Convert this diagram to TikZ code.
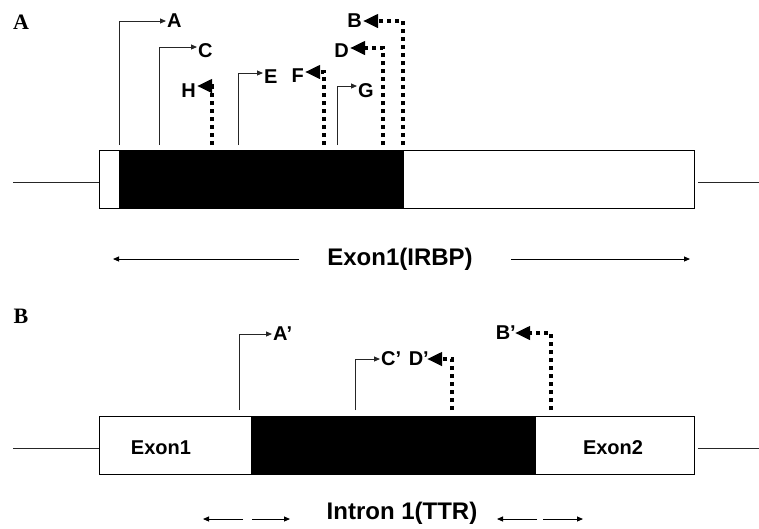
\documentclass[tikz,border=0pt]{standalone}
\usepackage{fontspec}
\newfontfamily\lsans{Liberation Sans}
\newfontfamily\lserif{Liberation Serif}
\usetikzlibrary{arrows.meta,positioning}
\tikzset{
  >={Triangle[length=6pt,width=5pt]},
  panellbl/.style={font=\lserif\bfseries\fontsize{22}{24}\selectfont,inner sep=0pt},
  sitelbl/.style={font=\lsans\bfseries\fontsize{20}{22}\selectfont,inner sep=1pt},
  regionlbl/.style={font=\lsans\bfseries\fontsize{24}{26}\selectfont,inner sep=0pt},
  exonlbl/.style={font=\lsans\bfseries\fontsize{20}{22}\selectfont,inner sep=0pt},
  gline/.style={line width=1pt,black!85},
  exonbox/.style={draw,line width=1.2pt,fill=white,anchor=north west,
    minimum width=595pt,minimum height=58pt,inner sep=0pt},
  blkbox/.style={fill=black,anchor=north west,minimum height=58pt,inner sep=0pt},
  fwd/.style={->,line width=0.9pt,black!85},
  rev/.style={-{Triangle[length=15pt,width=13pt]},line width=4pt,
    dash pattern=on 4pt off 4pt},
  spanarr/.style={->,line width=0.9pt},
}

\begin{document}
\begin{tikzpicture}[x=1pt,y=-1pt]
  \useasboundingbox (0,0) rectangle (759,528);

  % panel A: IRBP exon 1
  \node[panellbl] (pA) at (21,22) {A};
  \node[exonbox] (boxA) at (99,150) {};
  \node[blkbox,minimum width=285pt] (blkA) at (119,150) {};
  \coordinate (endA1) at (13,182);
  \coordinate (endA2) at (759,182);
  \draw[gline] (endA1) -- (endA1 -| boxA.west);
  \draw[gline] (endA2 -| boxA.east) ++(3,0) -- (endA2);

  \coordinate (bA) at (119,145);
  \coordinate (bC) at (159,145);
  \coordinate (bE) at (238,145);
  \coordinate (bG) at (337,145);
  \coordinate (bH) at (212,145);
  \coordinate (bF) at (324,145);
  \coordinate (bD) at (383,145);
  \coordinate (bB) at (403,145);
  \node[sitelbl,anchor=west] (sA) at (166,21) {A};
  \node[sitelbl,anchor=west] (sC) at (197,51) {C};
  \node[sitelbl,anchor=west] (sE) at (263,77) {E};
  \node[sitelbl,anchor=west] (sG) at (357,91) {G};
  \node[sitelbl,anchor=east] (sH) at (197,91) {H};
  \node[sitelbl,anchor=east] (sF) at (305,76) {F};
  \node[sitelbl,anchor=east] (sD) at (350,51) {D};
  \node[sitelbl,anchor=east] (sB) at (363,21) {B};
  \draw[fwd] (bA) |- (sA.west);
  \draw[fwd] (bC) |- ([yshift=4pt]sC.west);
  \draw[fwd] (bE) |- ([yshift=4pt]sE.west);
  \draw[fwd] (bG) |- ([yshift=5pt]sG.west);
  \draw[rev] (bH) |- ([yshift=5pt]sH.east);
  \draw[rev] (bF) |- ([yshift=4pt]sF.east);
  \draw[rev] (bD) |- ([yshift=3pt]sD.east);
  \draw[rev] (bB) |- (sB.east);

  \node[regionlbl] (regA) at (400,259) {Exon1(IRBP)};
  \coordinate (spA1) at (299,259);
  \coordinate (spA2) at (113,259);
  \coordinate (spA3) at (511,259);
  \coordinate (spA4) at (690,259);
  \draw[spanarr] (spA1) -- (spA2);
  \draw[spanarr] (spA3) -- (spA4);

  % panel B: TTR intron 1
  \node[panellbl] (pB) at (21,316) {B};
  \node[exonbox] (boxB) at (99,416) {};
  \node[blkbox,minimum width=285pt] (blkB) at (251,416) {};
  \node[exonlbl] (ex1) at (161,448) {Exon1};
  \node[exonlbl] (ex2) at (613,448) {Exon2};
  \coordinate (endB1) at (13,448);
  \coordinate (endB2) at (759,448);
  \draw[gline] (endB1) -- (endB1 -| boxB.west);
  \draw[gline] (endB2 -| boxB.east) ++(3,0) -- (endB2);

  \coordinate (bA2) at (239,410);
  \coordinate (bC2) at (355,410);
  \coordinate (bD2) at (452,410);
  \coordinate (bB2) at (551,410);
  \node[sitelbl,anchor=west] (sA2) at (272,334) {A’};
  \node[sitelbl,anchor=west] (sC2) at (380,359) {C’};
  \node[sitelbl,anchor=east] (sD2) at (430,359) {D’};
  \node[sitelbl,anchor=east] (sB2) at (517,333) {B’};
  \draw[fwd] (bA2) |- (sA2.west);
  \draw[fwd] (bC2) |- (sC2.west);
  \draw[rev] (bD2) |- ([xshift=-3pt]sD2.east);
  \draw[rev] (bB2) |- ([xshift=-2pt]sB2.east);

  \node[regionlbl] (regB) at (402,513) {Intron 1(TTR)};
  \coordinate (spB1) at (243,519);
  \coordinate (spB2) at (203,519);
  \coordinate (spB3) at (252,519);
  \coordinate (spB4) at (290,519);
  \coordinate (spB5) at (537,519);
  \coordinate (spB6) at (497,519);
  \coordinate (spB7) at (543,519);
  \coordinate (spB8) at (583,519);
  \draw[spanarr] (spB1) -- (spB2);
  \draw[spanarr] (spB3) -- (spB4);
  \draw[spanarr] (spB5) -- (spB6);
  \draw[spanarr] (spB7) -- (spB8);
\end{tikzpicture}
\end{document}
